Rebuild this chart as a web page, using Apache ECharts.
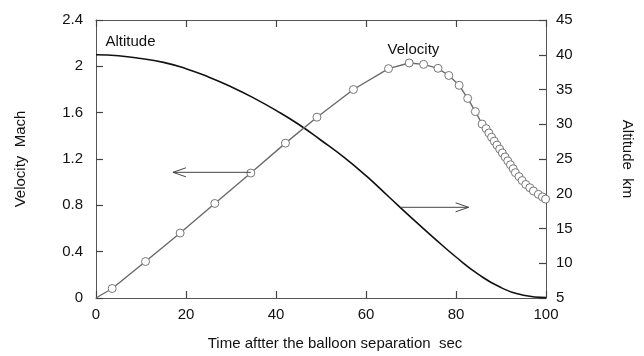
<!DOCTYPE html>
<html>
<head>
<meta charset="utf-8">
<script src="https://cdn.jsdelivr.net/npm/echarts@6/dist/echarts.min.js"></script>
<style>
  html, body { margin: 0; padding: 0; background: #fff; }
  #chart { width: 644px; height: 356px; }
</style>
</head>
<body>
<div id="chart"></div>
<script>
// Velocity (Mach) sampled after balloon separation; the first sample has no marker
const velocityTime = [0, 3.6, 11.0, 18.7, 26.4, 34.4, 42.1, 49.1, 57.2, 65.0, 69.6, 72.8, 76.0, 78.4, 80.7, 82.6, 84.3,
  85.8, 86.7, 87.3, 87.9, 88.5, 89.1, 89.7, 90.3, 90.9, 91.5, 92.1, 92.7, 93.2, 94.0, 94.7, 95.5, 96.4, 97.2, 98.3, 99.2, 99.9];
const velocityMach = [0, 0.082, 0.315, 0.561, 0.816, 1.079, 1.337, 1.561, 1.80, 1.98, 2.029, 2.017, 1.983, 1.921, 1.836, 1.723, 1.609,
  1.502, 1.462, 1.425, 1.388, 1.354, 1.320, 1.286, 1.252, 1.218, 1.184, 1.150, 1.116, 1.082, 1.048, 1.014, 0.980, 0.952, 0.924, 0.895, 0.873, 0.854];

// Altitude (km) trajectory
const altitudeTime = [0, 5, 10, 15, 20, 25, 30, 35, 40, 45, 50, 55, 60, 65, 70, 75, 80, 85, 90, 95, 100];
const altitudeKm = [40.0, 39.85, 39.45, 38.9, 38.0, 36.8, 35.4, 33.8, 32.0, 30.0, 27.7, 25.3, 22.6, 19.6, 16.6, 13.7, 10.9, 8.4, 6.5, 5.4, 5.05];

// Axis ranges and tick steps
const timeAxis = { min: 0, max: 100, interval: 20 };
const machAxis = { min: 0, max: 2.4, interval: 0.4 };
const altAxis = { min: 5, max: 45, interval: 5 };

// Arrows pointing each curve to its axis: [fromTime, fromValue, toTime, toValue]
const velocityArrow = [34.4, 1.085, 17.1, 1.085];
const altitudeArrow = [67.6, 18.05, 82.8, 18.05];

// Curve captions: [time, value]
const altitudeCaption = [2.1, 41.9];
const velocityCaption = [64.8, 2.142];
const captionText = ['Altitude', 'Velocity'];

const FONT = "'Liberation Sans', Arial, Helvetica, sans-serif";
const AXIS_COLOR = '#555';
const TICK_COLOR = '#444';

function arrowItem(params, api) {
  const a = api.coord([api.value(0), api.value(1)]);
  const b = api.coord([api.value(2), api.value(3)]);
  const dx = b[0] - a[0], dy = b[1] - a[1];
  const len = Math.hypot(dx, dy) || 1;
  const ux = dx / len, uy = dy / len;
  const L = 13, W = 4.5;
  const p1 = [b[0] - ux * L - uy * W, b[1] - uy * L + ux * W];
  const p2 = [b[0] - ux * L + uy * W, b[1] - uy * L - ux * W];
  return {
    type: 'group',
    children: [
      { type: 'line', shape: { x1: a[0], y1: a[1], x2: b[0], y2: b[1] },
        style: { stroke: '#444', lineWidth: 1 } },
      { type: 'polyline', shape: { points: [p1, b, p2] },
        style: { stroke: '#444', lineWidth: 1, fill: null } }
    ]
  };
}

function captionItem(text) {
  return function (params, api) {
    const p = api.coord([api.value(0), api.value(1)]);
    return {
      type: 'text', x: p[0], y: p[1],
      style: { text: text, font: '15px ' + FONT, fill: '#111', align: 'left', verticalAlign: 'middle' }
    };
  };
}

function valueAxis(range, extra) {
  return Object.assign({
    type: 'value',
    min: range.min, max: range.max, interval: range.interval,
    axisLine: { show: true, onZero: false, lineStyle: { color: AXIS_COLOR, width: 1 } },
    axisTick: { show: true, inside: true, length: 7, lineStyle: { color: TICK_COLOR, width: 1.2 } },
    splitLine: { show: false },
    nameTextStyle: { color: '#111', fontSize: 15, fontFamily: FONT }
  }, extra);
}

function tickLabels(margin) {
  return { color: '#111', fontSize: 15, fontFamily: FONT, margin: margin, showMinLabel: true, showMaxLabel: true };
}

const chart = echarts.init(document.getElementById('chart'), null, { renderer: 'canvas' });

const xBottom = valueAxis(timeAxis, {
  position: 'bottom',
  name: 'Time aftter the balloon separation  sec',
  nameLocation: 'middle',
  nameGap: 38,
  nameTextStyle: { color: '#111', fontSize: 15, fontFamily: FONT, padding: [0, 0, 0, 28] },
  axisLabel: tickLabels(9)
});

const xTop = valueAxis(timeAxis, { position: 'top', axisLabel: { show: false } });

const yLeft = valueAxis(machAxis, {
  position: 'left',
  name: 'Velocity  Mach',
  nameLocation: 'middle',
  nameGap: 68,
  axisLabel: tickLabels(13)
});

const yRight = valueAxis(altAxis, {
  position: 'right',
  name: 'Altitude  km',
  nameLocation: 'middle',
  nameRotate: -90,
  nameGap: 74,
  axisLabel: tickLabels(10)
});

const velocityData = velocityTime.map((t, i) =>
  i === 0 ? { value: [t, velocityMach[i]], symbol: 'none' } : [t, velocityMach[i]]);
const altitudeData = altitudeTime.map((t, i) => [t, altitudeKm[i]]);

chart.setOption({
  animation: false,
  backgroundColor: '#fff',
  grid: { left: 96, right: 98, top: 20, bottom: 54 },
  xAxis: [xBottom, xTop],
  yAxis: [yLeft, yRight],
  series: [
    {
      name: 'Altitude', type: 'line', xAxisIndex: 0, yAxisIndex: 1,
      data: altitudeData, smooth: true, symbol: 'none',
      lineStyle: { color: '#111', width: 1.6 }, z: 3
    },
    {
      name: 'Velocity', type: 'line', xAxisIndex: 0, yAxisIndex: 0,
      data: velocityData, showAllSymbol: true,
      symbol: 'circle', symbolSize: 8,
      itemStyle: { color: '#fff', borderColor: '#777', borderWidth: 1 },
      lineStyle: { color: '#6a6a6a', width: 1.4 }, z: 4
    },
    {
      type: 'custom', xAxisIndex: 0, yAxisIndex: 0, renderItem: arrowItem,
      data: [velocityArrow], encode: { x: [0, 2], y: [1, 3] }, silent: true, z: 5
    },
    {
      type: 'custom', xAxisIndex: 0, yAxisIndex: 1, renderItem: arrowItem,
      data: [altitudeArrow], encode: { x: [0, 2], y: [1, 3] }, silent: true, z: 5
    },
    {
      type: 'custom', xAxisIndex: 0, yAxisIndex: 1, renderItem: captionItem(captionText[0]),
      data: [altitudeCaption], encode: { x: 0, y: 1 }, silent: true, z: 6
    },
    {
      type: 'custom', xAxisIndex: 0, yAxisIndex: 0, renderItem: captionItem(captionText[1]),
      data: [velocityCaption], encode: { x: 0, y: 1 }, silent: true, z: 6
    }
  ]
});
</script>
</body>
</html>
